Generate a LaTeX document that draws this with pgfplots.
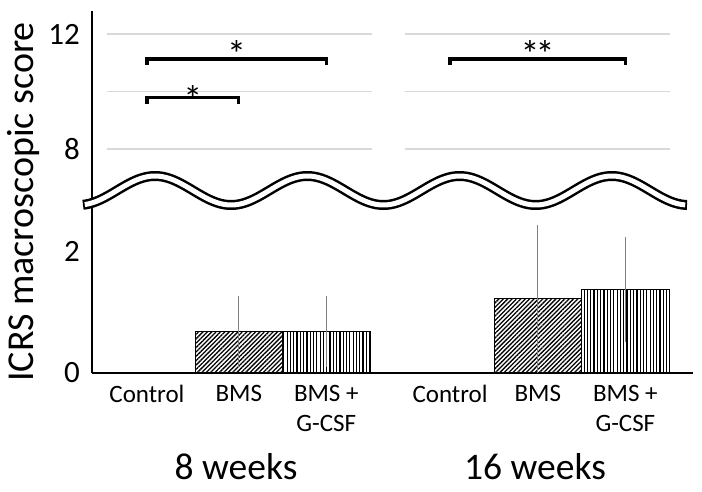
\documentclass[border=0pt]{standalone}
\usepackage{fontspec}
\setmainfont{Carlito}
\usepackage{pgfplots}
\usepackage{pgfplotstable}
\pgfplotsset{compat=1.18}
\usetikzlibrary{patterns.meta}

\pgfplotstableread{
x y err
1.038 0.68 0.54
4.416 1.22 1.18
}\bms
\pgfplotstableread{
x y err
2.026 0.68 0.54
5.405 1.375 0.825
}\gcsf

\begin{document}
\begin{tikzpicture}[x=1pt,y=1pt]
\useasboundingbox (0,0) rectangle (702,491);

% lower part of the broken axis
\begin{axis}[
  at={(92pt,118pt)}, anchor=south west,
  scale only axis, width=601pt, height=180.9pt,
  xmin=-0.621, xmax=6.169, ymin=0, ymax=2.975,
  axis x line*=bottom, axis y line*=left,
  axis line style={black, line width=2pt},
  ytick={0,2}, major tick length=0pt,
  xtick={0,1.038,2.026,3.424,4.416,5.405},
  xticklabels={Control,BMS,{BMS +\\G-CSF},Control,BMS,{BMS +\\G-CSF}},
  xticklabel style={align=center, font=\fontsize{25}{30}\selectfont, anchor=north, inner sep=0pt, yshift=-12pt},
  yticklabel style={font=\fontsize{31}{31}\selectfont, anchor=east, inner sep=0pt, xshift=-12pt},
  /pgf/number format/assume math mode=true,
  clip=false,
]
\addplot[ybar, bar width=0.99, bar shift=0pt, draw=black, line width=0.8pt,
  pattern={Lines[angle=45,distance=3.1pt,line width=1.3pt]},
  error bars/.cd, y dir=both, y explicit,
  error bar style={color=black!50, line width=1.1pt},
  error mark options={color=black!50, line width=1.1pt, mark size=2.5pt}]
  table[x=x,y=y,y error=err]{\bms};
\addplot[ybar, bar width=0.99, bar shift=0pt, draw=black, line width=0.8pt,
  pattern={Lines[angle=90,distance=3.3pt,line width=1.2pt]},
  error bars/.cd, y dir=both, y explicit,
  error bar style={color=black!50, line width=1.1pt},
  error mark options={color=black!50, line width=1.1pt, mark size=2.5pt}]
  table[x=x,y=y,y error=err]{\gcsf};
\end{axis}

% upper part of the broken axis
\begin{axis}[
  at={(92pt,298.9pt)}, anchor=south west,
  scale only axis, width=601pt, height=181.1pt,
  xmin=-0.621, xmax=6.169, ymin=6.5, ymax=12.8,
  axis x line=none, axis y line*=left,
  axis line style={black, line width=2pt},
  ytick={8,12}, major tick length=0pt, xtick=\empty,
  yticklabel style={font=\fontsize{31}{31}\selectfont, anchor=east, inner sep=0pt, xshift=-12pt},
  /pgf/number format/assume math mode=true,
  clip=false,
]
\foreach \g in {8,10,12}{
  \edef\tmp{\noexpand\draw[color=black!15, line width=1.2pt] (axis cs:-0.452,\g) -- (axis cs:2.542,\g) (axis cs:2.915,\g) -- (axis cs:5.91,\g);}\tmp
}
\addplot[black, line width=3.2pt, line join=miter, mark=none] coordinates {(0,10.93) (0,11.13) (2.026,11.13) (2.026,10.93)};
\addplot[black, line width=3.2pt, line join=miter, mark=none] coordinates {(0,9.57) (0,9.78) (1.038,9.78) (1.038,9.57)};
\addplot[black, line width=3.2pt, line join=miter, mark=none] coordinates {(3.424,10.93) (3.424,11.13) (5.405,11.13) (5.405,10.93)};
\node[font=\fontsize{38}{38}\selectfont, anchor=north, inner sep=0pt] at (axis cs:1.013,11.79) {*};
\node[font=\fontsize{38}{38}\selectfont, anchor=north, inner sep=0pt] at (axis cs:0.519,10.23) {*};
\node[font=\fontsize{38}{38}\selectfont, anchor=north, inner sep=0pt] at (axis cs:4.414,11.79) {*\kern-4pt*};
\end{axis}

% axis break
\draw[line width=10pt, line cap=butt, black] plot[domain=83:687, samples=240, smooth] (\x, {300.5+14.5*cos((\x-155)/152.3*360)});
\draw[line width=5pt, line cap=butt, white] plot[domain=84.8:685.2, samples=240, smooth] (\x, {300.5+14.5*cos((\x-155)/152.3*360)});

% labels
\node[font=\fontsize{38}{38}\selectfont, rotate=90, anchor=base] at (33,289) {ICRS macroscopic score};
\node[font=\fontsize{37.5}{37.5}\selectfont, anchor=base] at (236,12) {8 weeks};
\node[font=\fontsize{37.5}{37.5}\selectfont, anchor=base] at (535,12) {16 weeks};
\end{tikzpicture}
\end{document}
